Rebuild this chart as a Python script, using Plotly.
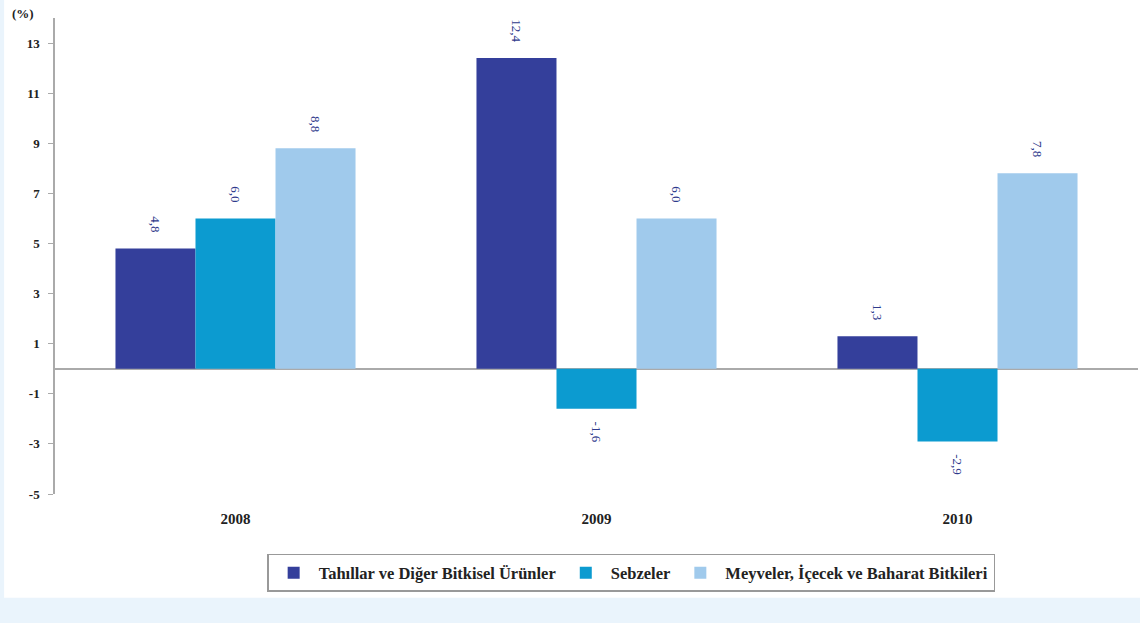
import plotly.graph_objects as go

years = ["2008", "2009", "2010"]
series_names = ["Tahıllar ve Diğer Bitkisel Ürünler", "Sebzeler", "Meyveler, İçecek ve Baharat Bitkileri"]
tahillar = [4.8, 12.4, 1.3]
sebzeler = [6.0, -1.6, -2.9]
meyveler = [8.8, 6.0, 7.8]
colors = ["#343F9B", "#0C9BD0", "#A0CAEC"]
y_ticks = [13, 11, 9, 7, 5, 3, 1, -1, -3, -5]

SERIF = "Liberation Serif"
NB = "\u00a0"


def label(v):
    s = f"{v:.1f}".replace(".", ",")
    return s + NB * 4 if v >= 0 else NB * 3 + s


fig = go.Figure()
for name, vals, col in zip(series_names, [tahillar, sebzeler, meyveler], colors):
    fig.add_trace(go.Bar(
        x=years, y=vals, name=name, marker=dict(color=col, line=dict(width=0)),
        text=[label(v) for v in vals],
        textposition="outside", textangle=90, cliponaxis=False,
        textfont=dict(family=SERIF, size=13, color="#2E3A8C"),
    ))

fig.add_shape(type="rect", xref="paper", yref="paper", x0=-0.047, x1=1.01, y0=-0.218, y1=1.05,
              fillcolor="white", line=dict(width=0), layer="below")
fig.add_annotation(text="<b>(%)</b>", xref="paper", yref="paper", x=-0.03, y=1.01, showarrow=False,
                   xanchor="center", yanchor="middle",
                   font=dict(family=SERIF, size=13, color="#222"))

fig.update_layout(
    width=1140, height=623,
    font=dict(family=SERIF),
    margin=dict(l=55, r=2, t=18, b=129, autoexpand=False),
    paper_bgcolor="#EAF4FC", plot_bgcolor="white",
    barmode="group", bargap=0.335, bargroupgap=0,
    showlegend=True,
    legend=dict(orientation="h", x=0.532, xanchor="center", y=-0.126, yanchor="top",
                bordercolor="#999", borderwidth=1.5, bgcolor="white",
                font=dict(family=SERIF, size=16.5, color="#222", weight="bold"),
                itemwidth=40, tracegroupgap=0),
    xaxis=dict(showline=False, ticks="", showgrid=False, zeroline=False, automargin=False,
               tickfont=dict(family=SERIF, size=15, color="#222", weight="bold"),
               ticklabelstandoff=14),
    yaxis=dict(range=[-5, 14], tickvals=y_ticks, ticktext=[f"<b>{v}</b>" for v in y_ticks],
               showline=True, linecolor="#AAAAAA", linewidth=1.5, ticks="outside", ticklen=5,
               tickcolor="#AAAAAA", showgrid=False, zeroline=True, zerolinecolor="#AAAAAA",
               zerolinewidth=1.5, automargin=False,
               tickfont=dict(family=SERIF, size=13, color="#222"),
               ticklabelstandoff=6),
)

fig.write_html("out.html", config={"displayModeBar": False},
               post_script="document.body.style.margin='0px';document.body.style.overflow='hidden';")
